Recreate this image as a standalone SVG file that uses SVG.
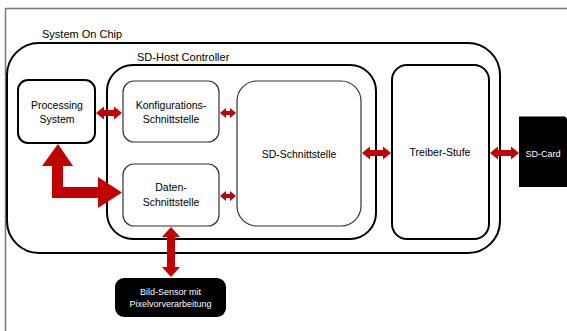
<svg xmlns="http://www.w3.org/2000/svg" width="567" height="331" viewBox="0 0 567 331">
  <style>
    text { font-family: "Liberation Sans", Arial, sans-serif; font-size: 10.5px; fill: #000; text-anchor: middle; }
    .lbl { text-anchor: start; font-size: 11px; }
    .inv { fill: #fff; font-size: 9px; }
    .thick { fill: none; stroke: #000; stroke-width: 2; }
    .thin { fill: #fff; stroke: #333; stroke-width: 1.2; }
    .box { fill: #fff; stroke: #000; stroke-width: 2; }
    .arrow { fill: #c00000; stroke: none; }
  </style>

  <!-- page frame -->
  <path d="M5.5 331 V8.5 H567" fill="none" stroke="#777" stroke-width="1.5"/>

  <g id="system-on-chip">
    <rect class="thick" x="7" y="43" width="493" height="210" rx="32"/>
    <text class="lbl" x="42" y="38">System On Chip</text>
  </g>

  <g id="sd-host-controller">
    <rect class="thick" x="107" y="65" width="269" height="174" rx="26"/>
    <text class="lbl" x="137" y="61">SD-Host Controller</text>
  </g>

  <g id="processing-system">
    <rect class="box" x="18" y="80" width="77" height="63" rx="10"/>
    <text x="57" y="109">Processing</text>
    <text x="57" y="123">System</text>
  </g>

  <g id="konfigurations-schnittstelle">
    <rect class="thin" x="123" y="81" width="96" height="61" rx="11"/>
    <text x="171" y="109">Konfigurations-</text>
    <text x="171" y="123">Schnittstelle</text>
  </g>

  <g id="daten-schnittstelle">
    <rect class="thin" x="123" y="164" width="96" height="62" rx="11"/>
    <text x="171" y="191">Daten-</text>
    <text x="171" y="206">Schnittstelle</text>
  </g>

  <g id="sd-schnittstelle">
    <rect class="thin" x="237" y="81" width="124" height="145" rx="20"/>
    <text x="299" y="158">SD-Schnittstelle</text>
  </g>

  <g id="treiber-stufe">
    <rect class="box" x="392" y="65" width="97" height="174" rx="15"/>
    <text x="440" y="156">Treiber-Stufe</text>
  </g>

  <g id="sd-card">
    <path d="M519 116.5 H565 L567 118.5 V187 H519 Z" fill="#000"/>
    <text class="inv" x="543" y="157">SD-Card</text>
  </g>

  <g id="bild-sensor">
    <rect x="115" y="278" width="111" height="39" rx="9" fill="#000"/>
    <text class="inv" x="170.5" y="295">Bild-Sensor mit</text>
    <text class="inv" x="170.5" y="307">Pixelvorverarbeitung</text>
  </g>

  <g id="connectors">
    <!-- Processing System <-> Konfigurations-Schnittstelle -->
    <polygon class="arrow" points="96,113 104,106.5 104,110 114,110 114,106.5 122,113 114,119.5 114,116 104,116 104,119.5"/>
    <!-- Konfigurations-Schnittstelle <-> SD-Schnittstelle -->
    <polygon class="arrow" points="220,113 226,108 226,111 230,111 230,108 236,113 230,118 230,115 226,115 226,118"/>
    <!-- Daten-Schnittstelle <-> SD-Schnittstelle -->
    <polygon class="arrow" points="220,196 226,191 226,194 230,194 230,191 236,196 230,201 230,198 226,198 226,201"/>
    <!-- SD-Schnittstelle <-> Treiber-Stufe -->
    <polygon class="arrow" points="362,153 370,146.5 370,150 383,150 383,146.5 391,153 383,159.5 383,156 370,156 370,159.5"/>
    <!-- Treiber-Stufe <-> SD-Card -->
    <polygon class="arrow" points="490,153 498,146.5 498,150 511,150 511,146.5 519,153 511,159.5 511,156 498,156 498,159.5"/>
    <!-- Daten-Schnittstelle <-> Bild-Sensor -->
    <polygon class="arrow" points="171,227 180,237 175,237 175,267 180,267 171,277 162,267 167,267 167,237 162,237"/>
    <!-- Processing System <-> Daten-Schnittstelle (L-shaped) -->
    <polygon class="arrow" points="58,144 73,166 63,166 63,187 98,187 98,177 122,192.5 98,208 98,198 52,198 52,166 42,166"/>
  </g>
</svg>
